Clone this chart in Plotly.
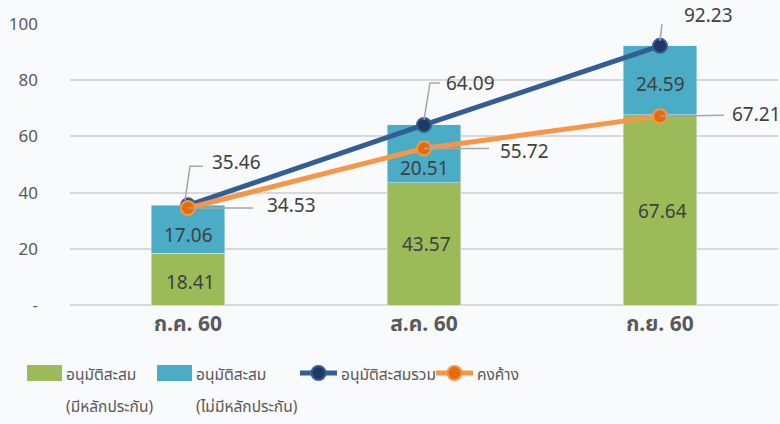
import plotly.graph_objects as go

categories = ["ก.ค. 60", "ส.ค. 60", "ก.ย. 60"]
secured = [18.41, 43.57, 67.64]
unsecured = [17.06, 20.51, 24.59]
total = [35.46, 64.09, 92.23]
outstanding = [34.53, 55.72, 67.21]
ytick_vals = [0, 20, 40, 60, 80, 100]
ytick_text = ["-", "20", "40", "60", "80", "100"]
legend_names = ["อนุมัติสะสม", "(มีหลักประกัน)", "อนุมัติสะสม", "(ไม่มีหลักประกัน)", "อนุมัติสะสมรวม", "คงค้าง"]

GREEN = "#9BBB59"
TEAL = "#4BACC6"
NAVY_LINE = "#335E94"
NAVY_MK = "#1F3864"
ORANGE_LINE = "#F79646"
ORANGE_MK = "#E46C0A"
LEADER = "#A6A6A6"
TXT = "#404040"
AX = "#595959"
BG = "#F9FAFC"
FONT = "Noto Sans Thai, Tahoma, Noto Sans, sans-serif"

W, H = 780, 424
L, R, T, B = 70, 2, 24, 119
PW, PH = W - L - R, H - T - B

def px(x):
    return (x - L) / PW

def py(y):
    return (H - B - y) / PH

idx = list(range(len(categories)))

fig = go.Figure()
fig.add_trace(go.Bar(x=idx, y=secured, marker_color=GREEN, width=0.31, name="s"))
fig.add_trace(go.Bar(x=idx, y=unsecured, marker_color=TEAL, width=0.31, name="u"))
fig.add_trace(go.Scatter(x=idx, y=total, mode="lines+markers",
                         line=dict(color=NAVY_LINE, width=5),
                         marker=dict(color=NAVY_MK, size=14, line=dict(color=NAVY_LINE, width=2)),
                         name="t"))
fig.add_trace(go.Scatter(x=idx, y=outstanding, mode="lines+markers",
                         line=dict(color=ORANGE_LINE, width=5),
                         marker=dict(color=ORANGE_MK, size=14, line=dict(color=ORANGE_LINE, width=2)),
                         name="o"))

shapes = []
annotations = []

# segment labels (placed at segment mid-points, nudged like the original)
sec_shift = [-4, -2, -3]
uns_shift = [-7, -16, -5]
for i in idx:
    annotations.append(dict(x=i, y=secured[i] / 2, xref="x", yref="y", text=f"{secured[i]:.2f}",
                            showarrow=False, xshift=2, yshift=sec_shift[i],
                            font=dict(color=TXT, size=19, family=FONT)))
    annotations.append(dict(x=i, y=secured[i] + unsecured[i] / 2, xref="x", yref="y",
                            text=f"{unsecured[i]:.2f}", showarrow=False, xshift=0, yshift=uns_shift[i],
                            font=dict(color=TXT, size=19, family=FONT)))

# leader lines and labels
total_leaders = ["M -3,5 L 2,39 L 15,39", "M 0,5 L 6,42 L 16,42", "M 0,5 L 3,31 L 17,31"]
total_shift = [(22, 42), (20, 40), (22, 29)]
out_leaders = ["M 0,0 L 65,0", "M 0,0 L 65,0", "M 0,0 L 64,1"]
out_shift = [(77, 1), (74, -4), (70, 1)]

for i in idx:
    shapes.append(dict(type="path", xref="x", yref="y", xsizemode="pixel", ysizemode="pixel",
                       xanchor=i, yanchor=total[i], path=total_leaders[i],
                       line=dict(color=LEADER, width=1.5), layer="above"))
    annotations.append(dict(x=i, y=total[i], xref="x", yref="y", text=f"{total[i]:.2f}",
                            showarrow=False, xanchor="left", yanchor="middle",
                            xshift=total_shift[i][0], yshift=total_shift[i][1],
                            font=dict(color=TXT, size=19, family=FONT)))
    shapes.append(dict(type="path", xref="x", yref="y", xsizemode="pixel", ysizemode="pixel",
                       xanchor=i, yanchor=outstanding[i], path=out_leaders[i],
                       line=dict(color=LEADER, width=1.5), layer="above"))
    annotations.append(dict(x=i, y=outstanding[i], xref="x", yref="y", text=f"{outstanding[i]:.2f}",
                            showarrow=False, xanchor="left", yanchor="middle",
                            xshift=out_shift[i][0], yshift=out_shift[i][1],
                            font=dict(color=TXT, size=19, family=FONT)))

# custom legend
LF = dict(color=AX, size=15.5, family=FONT)
shapes.append(dict(type="rect", xref="paper", yref="paper", x0=px(27), x1=px(62), y0=py(365), y1=py(381),
                   fillcolor=GREEN, line=dict(width=0)))
shapes.append(dict(type="rect", xref="paper", yref="paper", x0=px(157), x1=px(192), y0=py(365), y1=py(381),
                   fillcolor=TEAL, line=dict(width=0)))
shapes.append(dict(type="line", xref="paper", yref="paper", x0=px(300), x1=px(337), y0=py(373), y1=py(373),
                   line=dict(color=NAVY_LINE, width=5)))
shapes.append(dict(type="circle", xref="paper", yref="paper", xsizemode="pixel", ysizemode="pixel",
                   xanchor=px(318.5), yanchor=py(373), x0=-7, x1=7, y0=-7, y1=7,
                   fillcolor=NAVY_MK, line=dict(color=NAVY_LINE, width=2)))
shapes.append(dict(type="line", xref="paper", yref="paper", x0=px(436), x1=px(473), y0=py(373), y1=py(373),
                   line=dict(color=ORANGE_LINE, width=5)))
shapes.append(dict(type="circle", xref="paper", yref="paper", xsizemode="pixel", ysizemode="pixel",
                   xanchor=px(454.5), yanchor=py(373), x0=-7, x1=7, y0=-7, y1=7,
                   fillcolor=ORANGE_MK, line=dict(color=ORANGE_LINE, width=2)))
leg_pos = [(64, 375), (64, 407), (194, 375), (194, 407), (339, 375), (475, 375)]
for name, (lx, ly) in zip(legend_names, leg_pos):
    annotations.append(dict(x=px(lx), y=py(ly), xref="paper", yref="paper", text=name,
                            showarrow=False, xanchor="left", yanchor="middle", font=LF))

fig.update_layout(
    width=W, height=H,
    margin=dict(l=L, r=R, t=T, b=B),
    paper_bgcolor=BG, plot_bgcolor=BG,
    barmode="stack", showlegend=False,
    font=dict(family=FONT, color=AX),
    shapes=shapes, annotations=annotations,
    xaxis=dict(tickvals=idx, ticktext=[f"<b>{c}</b>" for c in categories], range=[-0.5, 2.5],
               tickfont=dict(size=21, color=AX, family=FONT), showgrid=False, zeroline=False,
               ticks="", ticklabelstandoff=4),
    yaxis=dict(range=[0, 100], tickvals=ytick_vals, ticktext=ytick_text,
               tickfont=dict(size=17, color=AX, family=FONT), showgrid=True,
               gridcolor="#D9D9D9", gridwidth=1.5, zeroline=True, zerolinecolor="#D9D9D9",
               zerolinewidth=1.5, ticks="", ticklabelstandoff=31),
)
fig.write_html("out.html", config={"displayModeBar": False},
               post_script="document.body.style.margin='0';document.body.style.background='%s';" % BG)
